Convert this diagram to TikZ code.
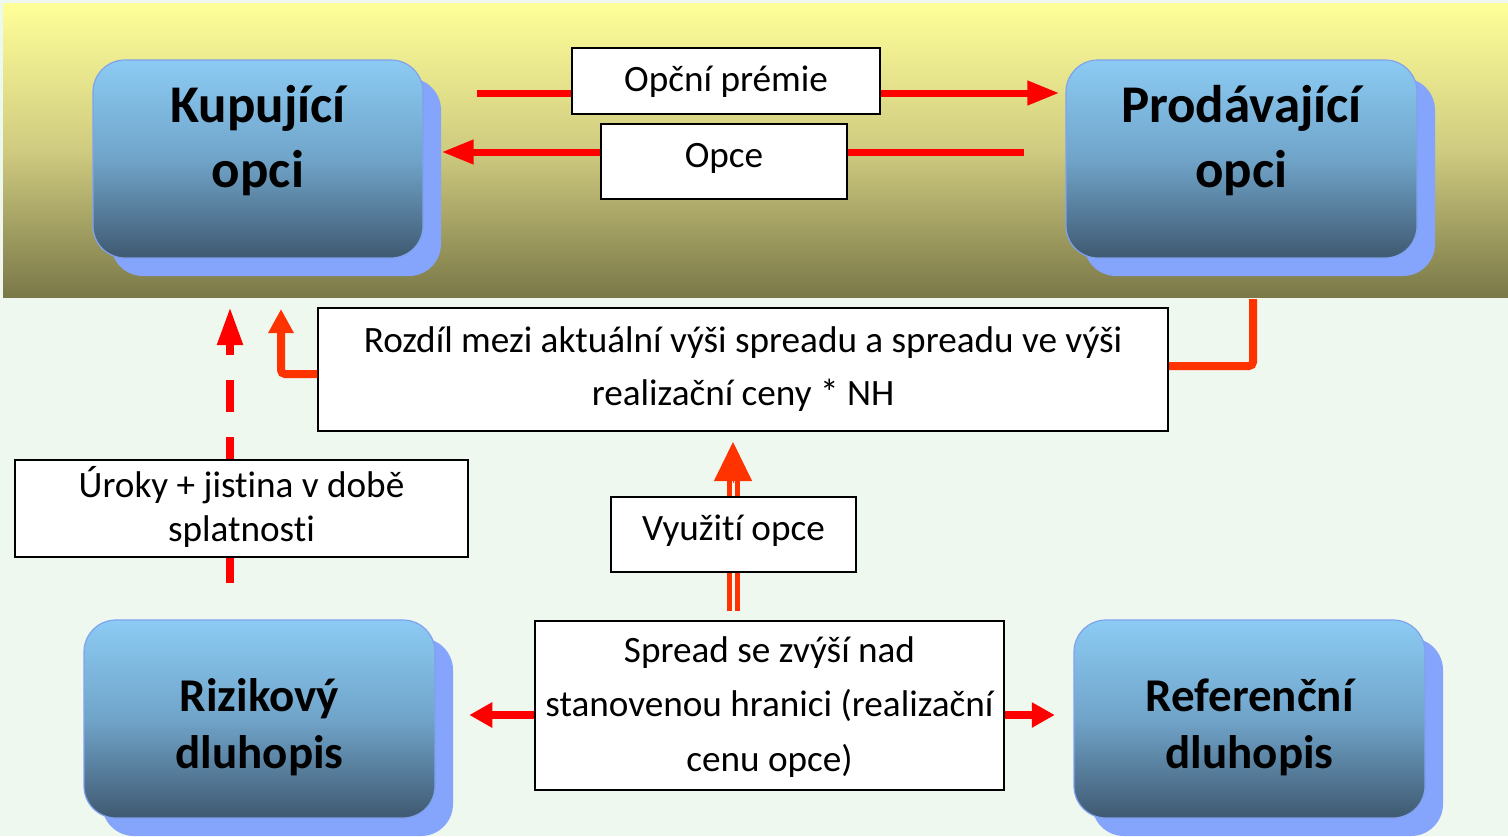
\documentclass[tikz,border=0pt]{standalone}
\usepackage{fontspec}
\setmainfont{Carlito}[Ligatures=NoCommon]
\usetikzlibrary{arrows.meta,shadows,calc}
\pgfdeclarelayer{bg}
\pgfdeclarelayer{back}
\pgfsetlayers{bg,back,main}
\definecolor{bggreen}{HTML}{EEF8EE}
\definecolor{bandtop}{HTML}{FFFF99}
\definecolor{bandmid}{HTML}{CFCB80}
\definecolor{bandbot}{HTML}{7A7848}
\definecolor{boxtop}{HTML}{8CCBF4}
\definecolor{boxmid}{HTML}{70A4C9}
\definecolor{boxbot}{HTML}{3F5971}
\definecolor{boxedge}{HTML}{7FA2EE}
\definecolor{shadowblue}{HTML}{85A4FB}
\definecolor{arrred}{HTML}{FF0000}
\definecolor{arrorange}{HTML}{FF3300}
\tikzset{
  party/.style={rounded corners=16pt, draw=boxedge, line width=0.6pt,
    top color=boxtop, bottom color=boxbot, middle color=boxmid,
    general shadow={fill=shadowblue, draw=none, shadow xshift=9pt, shadow yshift=-9pt},
    align=center, minimum height=99pt, inner sep=0pt},
  bigfont/.style={font=\bfseries\fontsize{26.5}{32.5}\selectfont},
  midfont/.style={font=\bfseries\fontsize{23.5}{28.5}\selectfont},
  txtbox/.style={draw=black, line width=0.75pt, fill=white, align=center, inner sep=0pt},
  toparrow/.style={arrred, line width=3.5pt, -{Triangle[length=16pt,width=11.5pt]}},
  botarrow/.style={arrred, line width=4pt, -{Triangle[length=11.5pt,width=12pt]}},
  orangeline/.style={arrorange, line width=4pt},
  orangearrow/.style={arrorange, line width=4pt, -{Triangle[length=12pt,width=12pt]}},
  dashedarrow/.style={arrred, line width=4pt, dash pattern=on 16pt off 12.5pt, -{Triangle[length=19pt,width=12pt]}},
  twinline/.style={arrorange, line width=2.5pt},
  twintip/.style={arrorange, line width=0.5pt, -{Triangle[length=19.5pt,width=19pt]}}
}
\begin{document}
\begin{tikzpicture}[x=0.5pt,y=-0.5pt]
\useasboundingbox (0,0) rectangle (1508,836);
\begin{pgfonlayer}{bg}
  \fill[bggreen] (0,0) rectangle (1508,836);
  \shade[top color=bandtop, bottom color=bandbot, middle color=bandmid] (3,3) rectangle (1508,297);
\end{pgfonlayer}

% party boxes
\node[party, bigfont, minimum width=165pt, text height=33pt, text depth=5pt] (buyer) at (258,159) {Kupující\\opci};
\node[party, bigfont, minimum width=175.5pt, text height=33pt, text depth=5pt] (seller) at (1241.5,159) {Prodávající\\opci};
\node[party, midfont, minimum width=175.5pt, text height=54pt, text depth=5pt] (risky) at (259.5,719) {Rizikový\\dluhopis};
\node[party, midfont, minimum width=175.5pt, text height=54pt, text depth=5pt] (refb) at (1249.5,719) {Referenční\\dluhopis};

% text boxes
\node[txtbox, font=\fontsize{18.6}{26.5}\selectfont, minimum width=154pt, minimum height=33pt, text height=15pt, text depth=5pt] (premie) at (726,81) {Opční prémie};
\node[txtbox, font=\fontsize{18.6}{26.5}\selectfont, minimum width=123pt, minimum height=37.5pt, text height=15pt, text depth=9.5pt] (opce) at (724,161.5) {Opce};
\node[txtbox, font=\fontsize{18.6}{26.5}\selectfont, minimum width=425pt, minimum height=61.5pt, text height=40.5pt, text depth=5pt] (rozdil) at (743,369.5) {Rozdíl mezi aktuální výši spreadu a spreadu ve výši\\realizační ceny * NH};
\node[txtbox, font=\fontsize{18.6}{22}\selectfont, minimum width=226.5pt, minimum height=48.5pt, text height=37.5pt, text depth=5pt] (uroky) at (241.5,508.5) {Úroky + jistina v době\\splatnosti};
\node[txtbox, font=\fontsize{18.6}{26.5}\selectfont, minimum width=122.5pt, minimum height=37.5pt, text height=15pt, text depth=9.5pt] (vyuziti) at (733.5,534.5) {Využití opce};
\node[txtbox, font=\fontsize{18.6}{27.25}\selectfont, minimum width=234.5pt, minimum height=84.5pt, text height=70.5pt, text depth=5pt] (spread) at (769.5,705.5) {Spread se zvýší nad\\stanovenou hranici (realizační\\cenu opce)};

% free ends
\coordinate (pstart) at (477,93);
\coordinate (ostart) at (1024,152);
\coordinate (rtop) at (1253,299);
\coordinate (ltip) at (281,309);
\coordinate (dbot) at (230,583);
\coordinate (dtip) at (230,307);
\coordinate (twin) at (733,611);

\begin{pgfonlayer}{back}
  \draw[toparrow, shorten >=3pt] (pstart) -- (seller.west |- pstart);
  \draw[toparrow] (ostart) -- ($(buyer.east |- ostart)+(18,0)$);
  \draw[dashedarrow] (dbot) -- (dtip);
  \draw[twinline] ($(twin)+(-4,0)$) -- ++(0,-131);
  \draw[twinline] ($(twin)+(4,0)$) -- ++(0,-131);
  \draw[twintip] ($(twin)+(0,-128)$) -- ++(0,-41);
\end{pgfonlayer}

\draw[orangeline, rounded corners=2pt] (rtop) |- ($(rozdil.east)+(0,-3.5)$);
\draw[orangearrow, rounded corners=2pt] ($(rozdil.west)+(0,4.5)$) -| (ltip);
\draw[botarrow] ($(spread.west)+(0,9.5)$) -- ++(-65,0);
\draw[botarrow] ($(spread.east)+(0,9.5)$) -- ++(50,0);
\end{tikzpicture}
\end{document}
